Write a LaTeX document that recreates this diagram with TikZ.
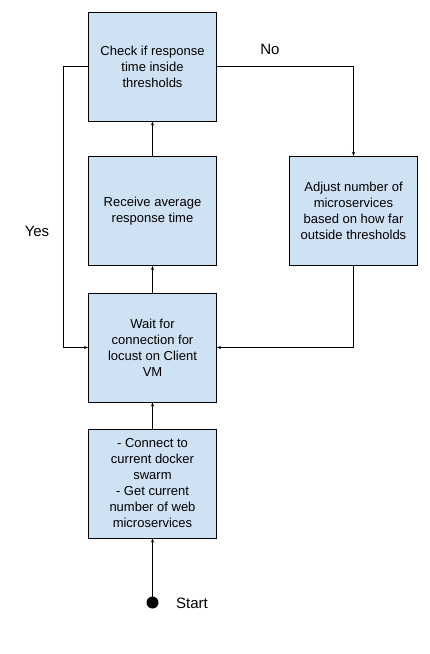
\documentclass[tikz,border=0pt]{standalone}
\usepackage{fontspec}
\setmainfont{Liberation Sans}
\usetikzlibrary{arrows.meta}
\definecolor{boxblue}{HTML}{CFE2F3}
\begin{document}
\begin{tikzpicture}[x=1pt,y=-1pt,
  stepbox/.style={draw=black,line width=0.9pt,fill=boxblue,minimum width=128pt,minimum height=109pt,
    align=center,inner sep=0pt,font=\fontsize{13}{16}\selectfont},
  lbl/.style={font=\fontsize{15}{18}\selectfont},
  conn/.style={line width=0.9pt,-{Stealth[length=4pt,width=3pt]}}]
\useasboundingbox (0,0) rectangle (430,654);
\node[stepbox] (check) at (152.5,66.5) {Check if response\\time inside\\thresholds};
\node[stepbox] (recv) at (152.5,211) {Receive average\\response time};
\node[stepbox] (wait) at (152.5,347.5) {Wait for\\connection for\\locust on Client\\VM};
\node[stepbox] (conn) at (152.5,483.5) {- Connect to\\current docker\\swarm\\- Get current\\number of web\\microservices};
\node[stepbox] (adj) at (353.5,211) {Adjust number of\\microservices\\based on how far\\outside thresholds};
\fill (152.5,602.5) circle (6pt);
\coordinate (start) at (152.5,602.5);
\node[lbl] (st) at (192,603) {Start};
\node[lbl] (no) at (270,49) {No};
\node[lbl] (yes) at (37,231) {Yes};
\coordinate (cr) at (353.5,66.5);
\coordinate (cl) at (63.5,66.5);
\coordinate (wl) at (63.5,347.5);
\coordinate (ar) at (353.5,347.5);
\draw[conn] (start) -- (conn.south);
\draw[conn] (conn.north) -- (wait.south);
\draw[conn] (wait.north) -- (recv.south);
\draw[conn] (recv.north) -- (check.south);
\draw[conn] (check.east) -- (cr) -- (adj.north);
\draw[conn] (check.west) -- (cl) -- (wl) -- (wait.west);
\draw[conn] (adj.south) -- (ar) -- (wait.east);
\end{tikzpicture}
\end{document}
